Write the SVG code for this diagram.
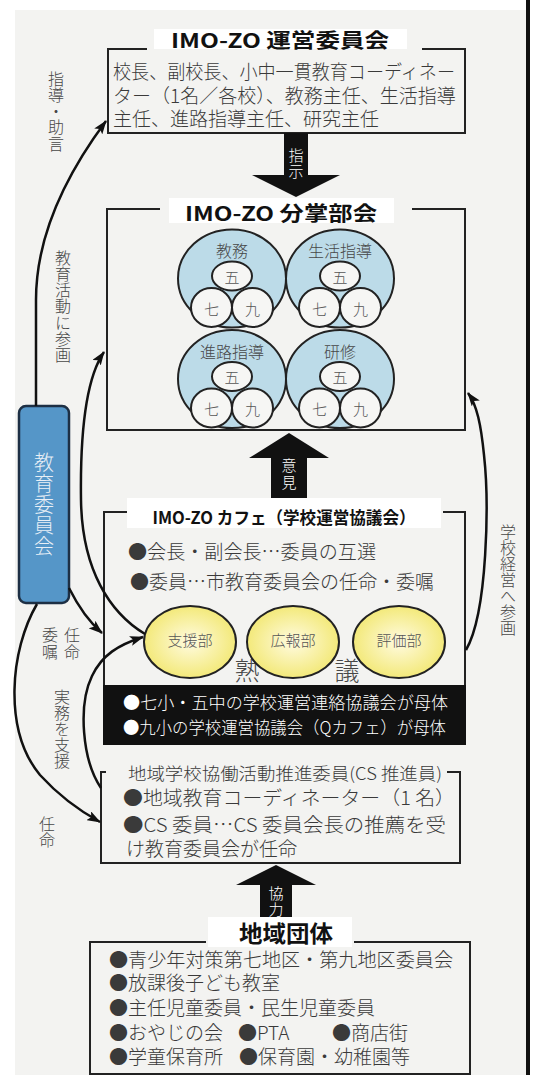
<svg xmlns="http://www.w3.org/2000/svg" width="539" height="1075" viewBox="0 0 539 1075">
<defs>
<style>
.t{font-family:"Noto Sans CJK JP","Noto Sans",sans-serif;dominant-baseline:central}
.v{font-family:"Noto Sans CJK JP","Noto Sans",sans-serif;writing-mode:vertical-rl;text-anchor:start;font-weight:300}
.box{fill:none;stroke:#222;stroke-width:2}
.body{font-size:19px;fill:#3a3a3a;font-weight:300}
.ttl{font-weight:bold;fill:#111;text-anchor:middle}
.vl{font-size:16px;fill:#474747}
.conn{fill:none;stroke:#111;stroke-width:2.5;marker-end:url(#ah)}
.big{fill:#bcdbe8;stroke:#222;stroke-width:2}
.sm{fill:#f6f6f4;stroke:#222;stroke-width:2}
.cl{font-size:16px;fill:#474747;text-anchor:middle;font-weight:300}
.cs{font-size:15px;fill:#555;text-anchor:middle;font-weight:300}
.yel{fill:url(#yg);stroke:#222;stroke-width:2}
.blk{fill:#111}
.wt{font-size:17px;fill:#fff;font-weight:300}
.wl{font-size:15px;fill:#fff}
</style>
<radialGradient id="yg" cx="50%" cy="50%" r="50%">
<stop offset="0%" stop-color="#fffbe0"/>
<stop offset="100%" stop-color="#f3e97a"/>
</radialGradient>
<marker id="ah" viewBox="0 0 14 10" refX="13" refY="5" markerWidth="14" markerHeight="10" orient="auto" markerUnits="userSpaceOnUse">
<path d="M0,0 L14,5 L0,10 L3,5 z" fill="#111"/>
</marker>
</defs>

<rect x="0" y="0" width="539" height="1075" fill="#fff"/>
<rect x="15" y="10" width="511" height="1065" fill="#f3f3f1"/>
<rect x="526" y="0" width="4" height="1075" fill="#111"/>

<g id="unei">
<path class="box" d="M147,49 H108 V133 H465 V49 H422"/>
<rect x="154" y="29" width="253" height="20" fill="#fff"/>
<text class="t ttl" x="280" y="39" font-size="20" textLength="218" lengthAdjust="spacingAndGlyphs">IMO-ZO  運営委員会</text>
<text class="t body" font-size="18" x="113" y="70" textLength="342" lengthAdjust="spacingAndGlyphs">校長、副校長、小中一貫教育コーディネー</text>
<text class="t body" font-size="18" x="113" y="94">ター（1名／各校）、教務主任、生活指導</text>
<text class="t body" font-size="18" x="113" y="117">主任、進路指導主任、研究主任</text>
</g>

<g id="arrow-shiji">
<polygon class="blk" points="284,133 308,133 308,175 340,175 296,197 252,175 284,175"/>
<text class="v wl" x="296" y="147.5" letter-spacing="1">指示</text>
</g>

<g id="bunsho">
<path class="box" d="M160,209 H107 V430 H465 V209 H412"/>
<rect x="169" y="198" width="225" height="25" fill="#fff"/>
<text class="t ttl" x="281" y="212" font-size="20" textLength="192" lengthAdjust="spacingAndGlyphs">IMO-ZO  分掌部会</text>
<g id="kyomu">
<ellipse class="big" cx="232" cy="278.5" rx="54" ry="49"/>
<text class="t cl" x="232" y="250">教務</text>
<ellipse class="sm" cx="211.5" cy="307.5" rx="20.5" ry="19.5"/>
<ellipse class="sm" cx="252.5" cy="307.5" rx="20.5" ry="19.5"/>
<ellipse class="sm" cx="232" cy="276" rx="20" ry="14.5"/>
<text class="t cs" x="232" y="276">五</text>
<text class="t cs" x="211.5" y="308">七</text>
<text class="t cs" x="252.5" y="308">九</text>
</g>
<g id="seikatsu">
<ellipse class="big" cx="340" cy="278.5" rx="54" ry="49"/>
<text class="t cl" x="340" y="250">生活指導</text>
<ellipse class="sm" cx="319.5" cy="307.5" rx="20.5" ry="19.5"/>
<ellipse class="sm" cx="360.5" cy="307.5" rx="20.5" ry="19.5"/>
<ellipse class="sm" cx="340" cy="276" rx="20" ry="14.5"/>
<text class="t cs" x="340" y="276">五</text>
<text class="t cs" x="319.5" y="308">七</text>
<text class="t cs" x="360.5" y="308">九</text>
</g>
<g id="shinro">
<ellipse class="big" cx="232" cy="379" rx="54" ry="49"/>
<text class="t cl" x="232" y="351">進路指導</text>
<ellipse class="sm" cx="211.5" cy="408" rx="20.5" ry="19.5"/>
<ellipse class="sm" cx="252.5" cy="408" rx="20.5" ry="19.5"/>
<ellipse class="sm" cx="232" cy="376.5" rx="20" ry="14.5"/>
<text class="t cs" x="232" y="376.5">五</text>
<text class="t cs" x="211.5" y="408.5">七</text>
<text class="t cs" x="252.5" y="408.5">九</text>
</g>
<g id="kenshu">
<ellipse class="big" cx="340" cy="379" rx="54" ry="49"/>
<text class="t cl" x="340" y="351">研修</text>
<ellipse class="sm" cx="319.5" cy="408" rx="20.5" ry="19.5"/>
<ellipse class="sm" cx="360.5" cy="408" rx="20.5" ry="19.5"/>
<ellipse class="sm" cx="340" cy="376.5" rx="20" ry="14.5"/>
<text class="t cs" x="340" y="376.5">五</text>
<text class="t cs" x="319.5" y="408.5">七</text>
<text class="t cs" x="360.5" y="408.5">九</text>
</g>
</g>

<g id="arrow-iken">
<polygon class="blk" points="289,433 329,458 307,458 307,498 271,498 271,458 249,458"/>
<text class="v wl" x="289" y="458" letter-spacing="2">意見</text>
</g>

<g id="cafe">
<path class="box" d="M127,512 H104 V685 M465,685 V512 H443"/>
<rect x="127" y="498" width="314" height="30" fill="#fff"/>
<text class="t ttl" x="284" y="516" font-size="17" textLength="263" lengthAdjust="spacingAndGlyphs">IMO-ZO カフェ（学校運営協議会）</text>
<text class="t body" x="128" y="550" textLength="248" lengthAdjust="spacingAndGlyphs">●会長・副会長…委員の互選</text>
<text class="t body" x="130" y="580" textLength="304" lengthAdjust="spacingAndGlyphs">●委員…市教育委員会の任命・委嘱</text>
<text class="t" x="247" y="669" font-size="25" fill="#474747" font-weight="300" text-anchor="middle">熟</text>
<text class="t" x="347" y="669" font-size="25" fill="#474747" font-weight="300" text-anchor="middle">議</text>
<g id="shien">
<ellipse class="yel" cx="190" cy="642" rx="46" ry="36"/>
<text class="t cs" x="190" y="639" fill="#333">支援部</text>
</g>
<g id="koho">
<ellipse class="yel" cx="293" cy="642" rx="46" ry="36"/>
<text class="t cs" x="293" y="639" fill="#333">広報部</text>
</g>
<g id="hyoka">
<ellipse class="yel" cx="399" cy="642" rx="46" ry="36"/>
<text class="t cs" x="399" y="639" fill="#333">評価部</text>
</g>
<rect class="blk" x="103" y="685" width="363" height="60"/>
<text class="t wt" x="123" y="701" textLength="325" lengthAdjust="spacingAndGlyphs">●七小・五中の学校運営連絡協議会が母体</text>
<text class="t wt" x="123" y="726" textLength="323" lengthAdjust="spacingAndGlyphs">●九小の学校運営協議会（Qカフェ）が母体</text>
</g>

<g id="cs">
<path class="box" d="M106,772 H101 V863 H460 V772 H447"/>
<text class="t" x="128" y="772" font-size="17" fill="#3a3a3a" font-weight="300" textLength="314" lengthAdjust="spacingAndGlyphs">地域学校協働活動推進委員(CS 推進員)</text>
<text class="t body" x="123" y="796" font-size="19.5" textLength="332" lengthAdjust="spacingAndGlyphs">●地域教育コーディネーター（1 名）</text>
<text class="t body" x="123" y="823" font-size="19.5" textLength="323" lengthAdjust="spacingAndGlyphs">●CS 委員…CS 委員会長の推薦を受</text>
<text class="t body" x="126" y="847" font-size="19.5">け教育委員会が任命</text>
</g>

<g id="arrow-kyoryoku">
<polygon class="blk" points="276,865 316,885 292,885 292,917 260,917 260,885 236,885"/>
<text class="v wl" x="276" y="885.5" letter-spacing="1">協力</text>
</g>

<g id="chiiki">
<path class="box" d="M206,942 H90 V1074 H470 V942 H354"/>
<rect x="208" y="917" width="144" height="30" fill="#fff"/>
<text class="t ttl" x="286" y="932" font-size="23" textLength="94" lengthAdjust="spacingAndGlyphs">地域団体</text>
<text class="t body" x="109" y="958" textLength="344" lengthAdjust="spacingAndGlyphs">●青少年対策第七地区・第九地区委員会</text>
<text class="t body" x="109" y="981">●放課後子ども教室</text>
<text class="t body" x="109" y="1006">●主任児童委員・民生児童委員</text>
<text class="t body" x="109" y="1031">●おやじの会</text>
<text class="t body" x="238" y="1031">●PTA</text>
<text class="t body" x="332" y="1031">●商店街</text>
<text class="t body" x="109" y="1055">●学童保育所</text>
<text class="t body" x="239" y="1055">●保育園・幼稚園等</text>
</g>

<g id="kyoiku-iinkai">
<rect x="19" y="406" width="50" height="197" rx="7" fill="#5596c8" stroke="#1d2f44" stroke-width="2.5"/>
<text class="v" x="44" y="452.5" font-size="20" fill="#e8eff6" letter-spacing="1">教育委員会</text>
</g>

<g id="connectors">
<path class="conn" d="M36,406 L36,300 C36,235 68,172 106,121"/>
<path class="conn" d="M145,634 C110,613 82,570 81,500 C80,430 86,378 104,352"/>
<path class="conn" d="M69,588 C78,606 88,621 102,633"/>
<path class="conn" d="M37,604 C10,650 3,730 40,775 C60,797 80,811 100,822"/>
<path class="conn" d="M101,788 C82,760 78,705 92,676 C102,655 118,645 143,637"/>
<path class="conn" d="M466,650 C488,612 489,500 484,455 C481,425 477,405 468,393"/>
</g>

<g id="labels">
<text class="v vl" x="56" y="70.5" font-size="17" letter-spacing="0.3">指導・助言</text>
<text class="v vl" x="63" y="249.5" font-size="17" letter-spacing="0.3">教育活動に参画</text>
<text class="v vl" x="72" y="627" font-size="15" letter-spacing="1">任命</text>
<text class="v vl" x="50" y="627" font-size="15" letter-spacing="1">委嘱</text>
<text class="v vl" x="62" y="689">実務を支援</text>
<text class="v vl" x="47" y="816">任命</text>
<text class="v vl" x="508" y="524">学校経営へ参画</text>
</g>
</svg>
